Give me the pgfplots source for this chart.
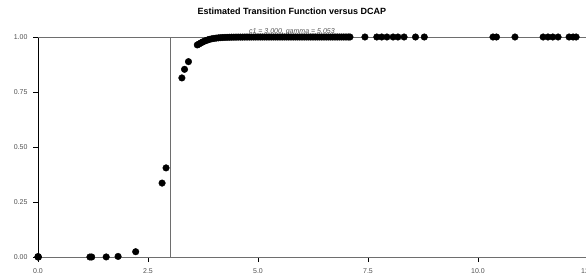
\documentclass[border=0pt]{standalone}
\usepackage{pgfplots}
\pgfplotsset{compat=1.18}
\usepackage{fontspec}
\setmainfont{Liberation Sans}
\definecolor{linegray}{RGB}{110,110,110}
\definecolor{textgray}{RGB}{80,80,80}
\begin{document}
\begin{tikzpicture}
\begin{axis}[
  name=ax,
  at={(0,0)}, anchor=south west,
  scale only axis,
  width=550pt, height=220pt,
  xmin=0, xmax=12.5, ymin=0, ymax=1,
  axis x line=bottom, axis y line=left,
  axis line style={-, linegray, line width=0.8pt},
  y axis line style={black},
  xtick={0,2.5,5,7.5,10,12.5},
  ytick={0,0.25,0.5,0.75,1},
  tick style={black, line width=0.7pt},
  tick align=outside,
  major tick length=5pt,
  xticklabel style={/pgf/number format/.cd, fixed, fixed zerofill, precision=1, /tikz/.cd, font=\fontsize{7}{8}\selectfont, text=textgray, yshift=-3pt},
  yticklabel style={/pgf/number format/.cd, fixed, fixed zerofill, precision=2, /tikz/.cd, font=\fontsize{7}{8}\selectfont, text=textgray, xshift=-2pt},
  /pgf/number format/assume math mode=true,
  clip=false,
]
\draw[linegray, line width=0.8pt] (axis cs:0,1) -- (axis cs:12.5,1);
\draw[linegray, line width=0.8pt] (axis cs:3,0) -- (axis cs:3,1);
\addplot[only marks, mark=*, mark size=3.3pt, black] coordinates {
(0,0) (0.01,0) (0,0.002)
(1.18,0) (1.22,0) (1.55,0.0003) (1.82,0.0026) (2.22,0.024)
(2.82,0.336) (2.91,0.405)
(3.27,0.814) (3.33,0.853) (3.42,0.888)
(3.62,0.964) (3.66,0.968) (3.70,0.973) (3.74,0.977) (3.78,0.981)
(3.82,0.984) (3.86,0.987) (3.90,0.9895) (3.95,0.9918) (4.00,0.9936)
(4.05,0.995) (4.10,0.9961) (4.15,0.997) (4.20,0.9977) (4.25,0.9982)
(4.30,0.9986) (4.35,0.9989) (4.40,0.9991) (4.45,0.9993) (4.50,0.9995)
(4.55,0.9996) (4.60,0.9997) (4.65,0.9997) (4.70,0.9998) (4.75,0.9998)
(4.80,0.9999) (4.85,0.9999) (4.90,0.9999) (4.95,1) (5.00,1)
(5.05,1) (5.10,1) (5.15,1) (5.20,1) (5.25,1) (5.30,1) (5.35,1) (5.40,1)
(5.45,1) (5.50,1) (5.55,1) (5.60,1) (5.65,1) (5.70,1) (5.75,1) (5.80,1)
(5.85,1) (5.90,1) (5.95,1) (6.00,1) (6.05,1) (6.10,1) (6.15,1) (6.20,1)
(6.25,1) (6.30,1) (6.35,1) (6.40,1) (6.45,1) (6.50,1) (6.55,1) (6.60,1)
(6.65,1) (6.70,1) (6.75,1) (6.80,1) (6.85,1) (6.90,1) (6.95,1) (7.00,1)
(7.05,1) (7.09,1)
(7.43,1) (7.70,1) (7.81,1) (7.93,1) (8.07,1) (8.18,1) (8.32,1) (8.58,1) (8.78,1)
(10.34,1) (10.42,1) (10.84,1)
(11.48,1) (11.59,1) (11.70,1) (11.82,1) (12.07,1) (12.16,1) (12.23,1)
};
\node[font=\fontsize{9}{10}\selectfont\bfseries, anchor=base] at (axis cs:5.77,1.1) {Estimated Transition Function versus DCAP};
\node[font=\fontsize{7}{8}\selectfont\itshape, text=textgray, anchor=base] at (axis cs:5.77,1.015) {c1 = 3.000, gamma = 5.053};
\end{axis}
\pgfresetboundingbox
\useasboundingbox ([xshift=-38pt,yshift=-22pt]ax.south west) rectangle ([xshift=548pt,yshift=257pt]ax.south west);
\end{tikzpicture}
\end{document}
